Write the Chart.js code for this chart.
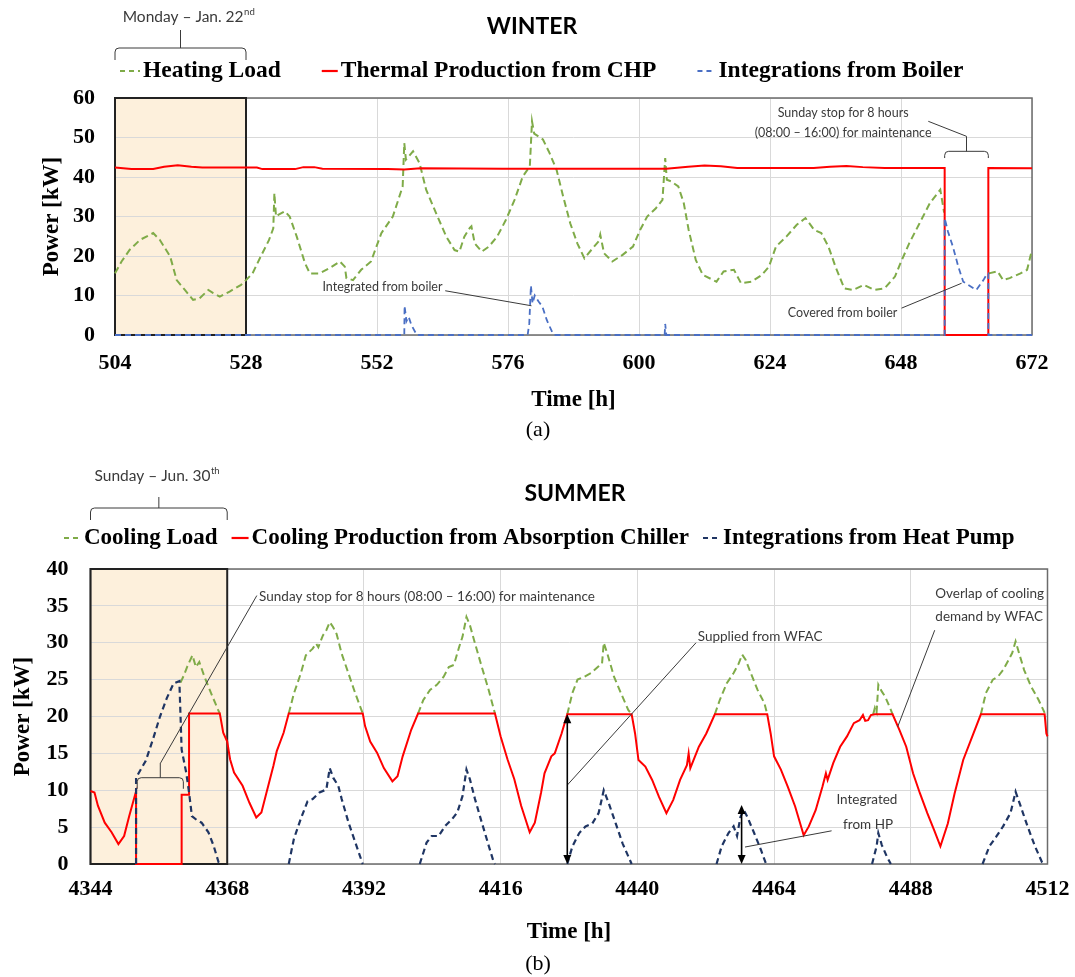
<!DOCTYPE html>
<html>
<head>
<meta charset="utf-8">
<script src="https://cdn.jsdelivr.net/npm/chart.js@4.4.1/dist/chart.umd.min.js"></script>
<style>
  html, body { margin: 0; background: #fff; }
  #page { position: relative; width: 1075px; height: 977px; overflow: hidden; }
  canvas { position: absolute; left: 0; }
  #ca { top: 0; }
  #cb { top: 440px; }
  .cap { position: absolute; font: 22px 'Liberation Serif', serif; color: #000; transform: translateX(-50%); }
</style>
</head>
<body>
<div id="page">
  <canvas id="ca" width="1075" height="440"></canvas>
  <canvas id="cb" width="1075" height="515"></canvas>
  <div class="cap" style="left:538px;top:416px">(a)</div>
  <div class="cap" style="left:538px;top:950px">(b)</div>
</div>
<script>
// ---- WINTER (a) ----
const winterHours = [504, 528, 552, 576, 600, 624, 648, 672];
const winterPower = [0, 10, 20, 30, 40, 50, 60];

const heatT = [504, 505.2, 506.7, 508.6, 511, 512.2, 514.1, 515.3, 516.8, 518.3, 519.5, 521.1, 522, 523.2, 525, 527.1, 528,
  529.2, 530.7, 532.2, 533, 533.2, 533.5, 533.9, 535.1, 536, 537.3, 538.8, 539.7, 541.5, 543.3, 545.2, 546.1, 546.4, 547.6,
  549.1, 550.9, 552.8, 554.9, 556.7, 557, 557.3, 558.6, 559.8, 561, 562.8, 564.7, 566.2, 567.1, 568, 569, 569.3, 569.9,
  571.2, 572.5, 574, 575.6, 577.2, 578.7, 580, 580.4, 580.8, 582.4, 583.6, 584.9, 586.1, 587.4, 588.7, 590, 591.3, 592.6,
  592.9, 593.6, 595.1, 597, 598.9, 600.2, 601.5, 603.1, 604.3, 604.8, 605.1, 605.9, 607.2, 608.2, 609.1, 610.4, 611.7,
  614.2, 615.5, 617.4, 618.7, 620.6, 622.5, 623.8, 625.1, 627, 628.9, 630.5, 632.1, 633.4, 634.7, 636, 637.6, 639.2,
  641.2, 643.1, 645, 646.9, 647.9, 649.5, 651.4, 653.3, 655.2, 655.9, 655.9,
  664.1, 665.7, 666.7, 667.9, 669.9, 671.1, 672];
const heatV = [15.6, 18.6, 21.6, 24.1, 25.8, 24.1, 19.9, 13.9, 11.4, 8.9, 9.3, 11.4, 10.6, 9.7, 11, 12.7, 13.9,
  15.6, 19.9, 24, 27, 35.9, 30, 30.4, 31.3, 30, 24.9, 18.2, 15.6, 15.6, 16.9, 18.6, 17.3, 14.4, 13.9,
  16.5, 18.6, 25.8, 30, 37.6, 48.6, 44.4, 46.5, 43.5, 36.8, 30.9, 24.9, 21.5, 21.1, 24.9, 27.1, 27.5, 23.2,
  21.1, 22.4, 24.9, 29.1, 34.2, 40.1, 42.7, 54.1, 51, 49.5, 46.1, 41.8, 35.1, 28.3, 23.2, 19.4, 21.6, 23.7,
  25.4, 20.7, 18.6, 20.3, 22.4, 26.6, 30, 32.1, 34.2, 44.8, 39.3, 38.9, 37.6, 33.4, 26.6, 19, 15.2,
  13.5, 16.1, 16.5, 13.1, 13.5, 15.2, 17.3, 22.4, 24.9, 27.9, 29.6, 26.6, 25.8, 22.4, 17.3, 11.8, 11.4,
  12.7, 11.4, 11.8, 14.8, 18.2, 23.2, 28.3, 33.4, 36.8, 31, null,
  15.6, 16.1, 13.9, 14.4, 15.6, 16.5, 21.6];

const chpT = [504, 507, 511, 513, 515.5, 518, 520, 530, 531, 537, 538.5, 540.5, 542, 554, 557, 560, 575, 590, 605, 609,
  612, 615, 618, 632, 635, 638, 641, 645, 656, 656, 664, 664, 672];
const chpV = [42.4, 42.0, 42.0, 42.6, 43.0, 42.6, 42.4, 42.4, 42.0, 42.0, 42.5, 42.5, 42.1, 42.0, 41.9, 42.2, 42.1, 42.1, 42.1, 42.6,
  42.9, 42.7, 42.3, 42.3, 42.6, 42.8, 42.5, 42.3, 42.3, 0, 0, 42.3, 42.2];

const boilT = [504, 557, 557.05, 557.4, 557.8, 558.3, 559.3, 579.6, 579.9, 580.2, 580.5, 580.9, 581.6, 582.3, 583.1, 584.2,
  584.5, 604.7, 604.8, 605, 656, 656, 656.6, 657.5, 658.5, 659.4, 660.3, 661.8, 663.1, 663.8, 664, 664, 672];
const boilV = [0, 0, 7.4, 3.5, 4.6, 2.5, 0, 0, 3, 12.5, 8, 10, 8.5, 7.2, 3.8, 0.4,
  0, 0, 2.8, 0, 0, 29.6, 26.2, 22.4, 17.3, 13.5, 12.7, 11.4, 13.9, 15.6, 15.6, 0, 0];

// ---- SUMMER (b) ----
const summerHours = [4344, 4368, 4392, 4416, 4440, 4464, 4488, 4512];
const summerPower = [0, 5, 10, 15, 20, 25, 30, 35, 40];

const coolT = [4359.8, 4360.4, 4361, 4361.9, 4362.5, 4363.1, 4364, 4365.2, 4366.4, 4366.7, 4366.7,
  4378.8, 4379.7, 4380.9, 4381.8, 4383, 4383.6, 4384, 4384.8, 4385.4, 4386, 4386.6, 4387.2, 4388.1, 4389.3, 4390.5, 4391.8, 4391.8,
  4401.5, 4402.4, 4403.6, 4404.8, 4406, 4406.9, 4407.8, 4408.7, 4409.3, 4410, 4410.6, 4411.5, 4412.7, 4413.9, 4415, 4415,
  4427.7, 4428.6, 4429.5, 4430.7, 4431.9, 4433.2, 4433.8, 4434.1, 4434.7, 4435.9, 4437.1, 4438.4, 4439, 4439,
  4453.6, 4454.5, 4455.7, 4456.9, 4457.8, 4458.4, 4459, 4459.9, 4461.1, 4462.3, 4462.8, 4462.8,
  4481.4, 4481.7, 4482, 4482.3, 4482.9, 4483.5, 4484.5, 4484.8, 4484.8,
  4500.3, 4501.2, 4502.4, 4503.3, 4504.2, 4505.2, 4505.8, 4506.4, 4507, 4507.9, 4509.1, 4510.4, 4511.5];
const coolV = [24.6, 25.6, 26.8, 28.3, 26.7, 27.4, 25.4, 23.1, 20.9, 20.4, null,
  20.4, 23.1, 25.8, 28.3, 29.2, 29.9, 29.4, 31, 31.7, 32.8, 32.1, 31.2, 28.5, 25.8, 23.1, 20.4, null,
  20.4, 22.2, 23.6, 24.3, 25.4, 26.7, 27, 29.4, 30.8, 33.5, 32.4, 29.9, 26.7, 23.6, 20.4, null,
  20.3, 23.2, 25, 25.4, 25.9, 26.8, 27.2, 30, 28.6, 25.4, 23.2, 20.9, 20.3, null,
  20.3, 22.3, 24.5, 25.9, 27.2, 28.4, 27.7, 25.9, 23.6, 21.8, 20.3, null,
  20.3, 21.2, 20.6, 24.3, 23.4, 22.7, 20.9, 20.3, null,
  20.3, 23.2, 25, 25.4, 26.3, 27.7, 28.6, 30.2, 28.6, 26.3, 24.1, 22.3, 20.5];

const absT = [4344, 4344.7, 4345.3, 4346.5, 4347.7, 4348.9, 4349.9, 4350.8, 4351.9, 4352, 4352, 4360, 4360, 4361.3, 4361.3,
  4366.7, 4367.3, 4368, 4368.5, 4369.2, 4370.7, 4371.9, 4373.1, 4374, 4374.9, 4376.1, 4376.7, 4377.9, 4378.8,
  4391.8, 4392.2, 4393.1, 4394.3, 4395.5, 4397, 4397.9, 4398.8, 4400.3, 4401.5,
  4415, 4416, 4417.2, 4418.4, 4419.6, 4421.1, 4422, 4423.1, 4423.7, 4424.9, 4425.5, 4426.7, 4427.7,
  4439, 4439.6, 4440.2, 4441.4, 4442.6, 4443.8, 4445.1, 4446.3, 4447.5, 4448.7, 4449, 4449.3, 4450.8, 4452.1, 4453.6,
  4462.8, 4463.4, 4464, 4465.2, 4466.4, 4467.7, 4469.2, 4470.1, 4471.3, 4472.5, 4473.1, 4473.4, 4474.4, 4475.6, 4476.8,
  4478, 4479, 4479.6, 4480, 4480.5, 4481, 4481.7,
  4484.8, 4486, 4487.2, 4488.4, 4489.6, 4490.9, 4492.1, 4493.2, 4494.5, 4495.7, 4497.2, 4498.8, 4500.3,
  4511.5, 4511.8, 4512];
const absV = [9.9, 9.7, 7.9, 5.6, 4.3, 2.7, 3.8, 6.5, 9.6, 9.8, 0, 0, 9.4, 9.4, 20.4,
  20.4, 17.8, 16.6, 14.2, 12.4, 10.6, 8.3, 6.3, 7, 9.7, 13.3, 15.3, 17.8, 20.4,
  20.4, 18.7, 16.6, 15.1, 13, 11.2, 11.9, 14.6, 18.2, 20.4,
  20.4, 17.3, 14.2, 11.5, 7.9, 4.3, 5.6, 9.7, 12.3, 14.6, 15, 17.7, 20.3,
  20.3, 17.7, 14.1, 13.2, 11.4, 9.1, 6.9, 8.7, 11.4, 13.4, 15, 13, 15.9, 17.7, 20.3,
  20.3, 17.7, 14.6, 12.8, 10.5, 7.8, 3.9, 5.1, 7.3, 10.5, 12.3, 11.4, 13.7, 15.9, 17.3,
  19.1, 19.5, 20.2, 19.4, 19.5, 20.2, 20.3,
  20.3, 18.2, 15.9, 12.3, 9.6, 6.9, 4.6, 2.4, 5.5, 9.6, 14.1, 17.3, 20.3,
  20.3, 17.7, 17.3];

// heat pump: one segment per day, null marks the gaps
const hpT = [4352, 4352, 4353.7, 4355, 4356.2, 4357.4, 4358.6, 4359.6, 4360, 4360.8, 4361.3, 4361.8, 4362.6, 4363.5,
  4364.7, 4365.6, 4366.5, 4366.7, 4366.7,
  4378.8, 4379.7, 4380.9, 4382.1, 4383, 4384.2, 4385.4, 4386, 4386.6, 4387.5, 4388.1, 4389.3, 4390.5, 4391.7, 4391.8, 4391.8,
  4401.8, 4403, 4403.9, 4405.1, 4406.3, 4407.5, 4408.4, 4409.3, 4410, 4410.6, 4411.5, 4412.7, 4413.9, 4414.8, 4415, 4415,
  4427.7, 4428.6, 4429.8, 4430.9, 4432.1, 4433.2, 4434.1, 4435, 4436.2, 4437.4, 4439, 4439,
  4453.9, 4454.8, 4456, 4456.9, 4457.5, 4458.1, 4458.7, 4459.3, 4460.5, 4461.7, 4462.6, 4462.6,
  4481.2, 4482, 4482.3, 4482.9, 4483.8, 4484.5, 4484.5,
  4500.6, 4501.8, 4503, 4504.2, 4505.5, 4506.4, 4507.3, 4508.5, 4509.8, 4511, 4511.4];
const hpV = [0, 11.7, 14, 17, 20, 22.5, 24.5, 24.8, 15.5, 12.4, 9.7, 6.5, 6, 5.6,
  4.3, 2.5, 0.2, 0, null,
  0, 3.4, 6.1, 8.5, 8.8, 9.7, 10.1, 13, 11.7, 10.6, 8.8, 5.6, 2.9, 0.2, 0, null,
  0, 2.9, 3.8, 3.8, 5.2, 6.1, 7, 9.2, 12.8, 11.5, 8.8, 5.6, 2.5, 0.2, 0, null,
  0, 2.4, 4.2, 5.1, 5.5, 6.9, 10, 8.2, 5.5, 2.8, 0, null,
  0, 2.4, 4.2, 5.1, 3.8, 6.4, 7.3, 6.4, 4.2, 1.9, 0, null,
  0, 2.4, 4.2, 2.6, 1, 0, null,
  0, 2.4, 3.7, 5.1, 6.9, 9.8, 7.8, 5.1, 2.4, 0.3, 0];

// ---- style ----
const SERIF = "'Liberation Serif', 'Times New Roman', serif";
const SANS = "Lato, 'Open Sans', sans-serif";
const GREEN = '#7fab48';
const RED = '#ff0000';
const ANNO = '#3a3a3a';
const serifBold = size => ({ family: SERIF, size, weight: 'bold' });
const pts = (t, v) => t.map((x, i) => ({ x, y: v[i] }));

function series(label, t, v, color, dash, width, order) {
  return {
    label, data: pts(t, v), borderColor: color, borderWidth: width, borderDash: dash,
    pointRadius: 0, fill: false, tension: 0, spanGaps: false, order, clip: 4,
  };
}

// ---- drawing helpers ----
function seg(ctx, x0, y0, x1, y1) {
  ctx.beginPath(); ctx.moveTo(x0, y0); ctx.lineTo(x1, y1); ctx.stroke();
}
function text(ctx, s, x, y, font, align = 'center', color = ANNO) {
  ctx.font = font; ctx.fillStyle = color; ctx.textAlign = align; ctx.textBaseline = 'middle';
  ctx.fillText(s, x, y);
}
function supText(ctx, main, sup, cx, y, size) {
  ctx.font = size + 'px ' + SANS;
  const w1 = ctx.measureText(main).width;
  ctx.font = (size * 0.62) + 'px ' + SANS;
  const w2 = ctx.measureText(sup).width;
  const x0 = cx - (w1 + w2) / 2;
  text(ctx, main, x0, y, size + 'px ' + SANS, 'left');
  text(ctx, sup, x0 + w1 + 0.5, y - size * 0.3, (size * 0.62) + 'px ' + SANS, 'left');
}
function bracket(ctx, x0, x1, yH, yEnd, stemTop) {
  const r = 4, xc = (x0 + x1) / 2;
  ctx.beginPath();
  ctx.moveTo(x0, yEnd); ctx.lineTo(x0, yH + r); ctx.quadraticCurveTo(x0, yH, x0 + r, yH);
  ctx.lineTo(x1 - r, yH); ctx.quadraticCurveTo(x1, yH, x1, yH + r); ctx.lineTo(x1, yEnd);
  ctx.moveTo(xc, yH); ctx.lineTo(xc, stemTop);
  ctx.stroke();
}
function arrowHead(ctx, x, y, dir) {
  ctx.beginPath(); ctx.moveTo(x, y); ctx.lineTo(x - 4, y - 9 * dir); ctx.lineTo(x + 4, y - 9 * dir); ctx.closePath(); ctx.fill();
}
function dblArrow(ctx, x, yTop, yBot) {
  ctx.save(); ctx.strokeStyle = '#000'; ctx.fillStyle = '#000'; ctx.lineWidth = 1.6;
  seg(ctx, x, yTop + 4, x, yBot - 4);
  arrowHead(ctx, x, yTop, -1); arrowHead(ctx, x, yBot, 1);
  ctx.restore();
}
function legend(ctx, items, x0, y, size, gap) {
  let x = x0;
  items.forEach(it => {
    ctx.save(); ctx.strokeStyle = it.color; ctx.lineWidth = 2.2; ctx.setLineDash(it.dash);
    seg(ctx, x, y, x + it.w, y); ctx.restore();
    x += it.w + 3;
    text(ctx, it.label, x, y, 'bold ' + size + 'px ' + SERIF, 'left', '#000');
    ctx.font = 'bold ' + size + 'px ' + SERIF;
    x += ctx.measureText(it.label).width + gap;
  });
}

function figurePlugin(cfg) {
  return {
    id: 'figure',
    beforeDraw(chart) {
      const { ctx, chartArea: a, scales: { x } } = chart;
      const x0 = x.getPixelForValue(cfg.day[0]), x1 = x.getPixelForValue(cfg.day[1]);
      ctx.save(); ctx.fillStyle = '#fdf0dc'; ctx.fillRect(x0, a.top, x1 - x0, a.bottom - a.top); ctx.restore();
    },
    beforeDatasetsDraw(chart) {
      const { ctx, chartArea: a, scales: { x } } = chart;
      const x0 = x.getPixelForValue(cfg.day[0]), x1 = x.getPixelForValue(cfg.day[1]);
      ctx.save();
      ctx.strokeStyle = '#6b6b6b'; ctx.lineWidth = 1.5;
      ctx.strokeRect(a.left, a.top, a.right - a.left, a.bottom - a.top);
      ctx.strokeStyle = '#222'; ctx.lineWidth = 2;
      ctx.strokeRect(x0, a.top, x1 - x0, a.bottom - a.top);
      ctx.restore();
    },
    afterDraw(chart) {
      const { ctx, scales: { x, y } } = chart;
      const X = v => x.getPixelForValue(v), Y = v => y.getPixelForValue(v);
      ctx.save();
      text(ctx, cfg.title, cfg.titleX, cfg.titleY, 'bold 23px ' + SANS, 'center', '#000');
      legend(ctx, cfg.legend, cfg.legendX, cfg.legendY, cfg.legendSize, cfg.legendGap);
      ctx.strokeStyle = ANNO; ctx.lineWidth = 1;
      const bx0 = X(cfg.day[0]), bx1 = X(cfg.day[1]);
      bracket(ctx, bx0, bx1, cfg.dayBracket[0], cfg.dayBracket[1], cfg.dayBracket[2]);
      supText(ctx, cfg.dayText[0], cfg.dayText[1], (bx0 + bx1) / 2 + cfg.dayText[2], cfg.dayText[3], 15.5);
      cfg.notes(ctx, X, Y);
      ctx.restore();
    },
  };
}

function axes(hours, power, xH, yW, tickPadX, tickPadY, titlePadB, titlePadL) {
  return {
    x: {
      type: 'linear', min: hours[0], max: hours[hours.length - 1],
      afterBuildTicks: s => { s.ticks = hours.map(value => ({ value })); },
      ticks: { font: serifBold(22), color: '#000', padding: tickPadX, maxRotation: 0, autoSkip: false, callback: v => String(v) },
      grid: { color: '#d9d9d9', drawTicks: false }, border: { display: false },
      title: { display: true, text: 'Time [h]', font: serifBold(23), color: '#000', padding: { top: 0, bottom: titlePadB } },
      afterFit: s => { s.height = xH; s.paddingLeft = 0; s.paddingRight = 0; },
    },
    y: {
      min: power[0], max: power[power.length - 1],
      afterBuildTicks: s => { s.ticks = power.map(value => ({ value })); },
      ticks: { font: serifBold(22), color: '#000', padding: tickPadY, callback: v => String(v) },
      grid: { color: '#d9d9d9', drawTicks: false }, border: { display: false },
      title: { display: true, text: 'Power [kW]', font: serifBold(23), color: '#000', padding: { top: titlePadL, bottom: 0 } },
      afterFit: s => { s.width = yW; s.paddingTop = 0; s.paddingBottom = 0; },
    },
  };
}

const noteFont = s => s + 'px ' + SANS;

// ---- chart (a) ----
new Chart(document.getElementById('ca'), {
  type: 'line',
  data: {
    datasets: [
      series('Integrations from Boiler', boilT, boilV, '#4a6fc4', [6, 4], 1.8, 0),
      series('Thermal Production from CHP', chpT, chpV, RED, [], 2, 1),
      series('Heating Load', heatT, heatV, GREEN, [7, 4], 2, 2),
    ],
  },
  options: {
    responsive: false, animation: false, events: [],
    layout: { padding: { left: 0, right: 43, top: 98, bottom: 0 } },
    plugins: { legend: { display: false }, tooltip: { enabled: false } },
    scales: axes(winterHours, winterPower, 105, 115, 15, 20, 26, 38),
  },
  plugins: [figurePlugin({
    day: [504, 528], title: 'WINTER', titleX: 532, titleY: 27,
    legendX: 120, legendY: 71, legendSize: 23.5, legendGap: 41,
    legend: [
      { label: 'Heating Load', color: GREEN, dash: [5, 4], w: 20 },
      { label: 'Thermal Production from CHP', color: RED, dash: [], w: 16 },
      { label: 'Integrations from Boiler', color: '#4a6fc4', dash: [5, 4], w: 18 },
    ],
    dayBracket: [48, 60, 30], dayText: ['Monday – Jan. 22', 'nd', 8, 17],
    notes(ctx, X, Y) {
      text(ctx, 'Integrated from boiler', X(553), Y(12.1), noteFont(12.5));
      seg(ctx, X(564.5), Y(11.2), X(580.3), Y(7.4));
      text(ctx, 'Sunday stop for 8 hours', X(637.4), Y(56.2), noteFont(12.5));
      text(ctx, '(08:00 – 16:00) for maintenance', X(637.4), Y(51.1), noteFont(12.5));
      seg(ctx, X(653), Y(54.1), X(660), Y(50.3));
      bracket(ctx, X(656), X(664), Y(46.5), Y(44.8), Y(50.3));
      text(ctx, 'Covered from boiler', X(637.3), Y(5.5), noteFont(12.5));
      seg(ctx, X(648.1), Y(6.8), X(659.1), Y(13.1));
    },
  })],
});

// ---- chart (b) ----
new Chart(document.getElementById('cb'), {
  type: 'line',
  data: {
    datasets: [
      series('Integrations from Heat Pump', hpT, hpV, '#1f3563', [6, 4], 2.2, 0),
      series('Cooling Production from Absorption Chiller', absT, absV, RED, [], 2, 1),
      series('Cooling Load', coolT, coolV, GREEN, [7, 4], 2, 2),
    ],
  },
  options: {
    responsive: false, animation: false, events: [],
    layout: { padding: { left: 0, right: 27.5, top: 129, bottom: 0 } },
    plugins: { legend: { display: false }, tooltip: { enabled: false } },
    scales: axes(summerHours, summerPower, 91, 90.5, 12, 22, 9, 9),
  },
  plugins: [figurePlugin({
    day: [4344, 4368], title: 'SUMMER', titleX: 575, titleY: 54,
    legendX: 64, legendY: 98, legendSize: 23, legendGap: 14,
    legend: [
      { label: 'Cooling Load', color: GREEN, dash: [5, 4], w: 17 },
      { label: 'Cooling Production from Absorption Chiller', color: RED, dash: [], w: 17 },
      { label: 'Integrations from Heat Pump', color: '#1f3563', dash: [5, 4], w: 17 },
    ],
    dayBracket: [68, 80, 57], dayText: ['Sunday – Jun. 30', 'th', -2, 36],
    notes(ctx, X, Y) {
      text(ctx, 'Sunday stop for 8 hours (08:00 – 16:00) for maintenance', X(4373.6), Y(36.2), noteFont(13.5), 'left');
      seg(ctx, X(4373.2), Y(36.4), X(4356.3), Y(13.7));
      bracket(ctx, X(4352.2), X(4360.3), Y(11.7), Y(10.2), Y(13.7));
      text(ctx, 'Supplied from WFAC', X(4450.6), Y(30.8), noteFont(13.5), 'left');
      seg(ctx, X(4450.3), Y(30), X(4427.7), Y(10.7));
      dblArrow(ctx, X(4427.7), Y(20.3), Y(0));
      text(ctx, 'Integrated', X(4480.3), Y(8.7), noteFont(13.5));
      text(ctx, 'from HP', X(4480.5), Y(5.3), noteFont(13.5));
      seg(ctx, X(4474.1), Y(4.5), X(4458.9), Y(2.3));
      dblArrow(ctx, X(4458.3), Y(8.0), Y(0));
      text(ctx, 'Overlap of cooling', X(4511.4), Y(36.7), noteFont(13.5), 'right');
      text(ctx, 'demand by WFAC', X(4511.2), Y(33.5), noteFont(13.5), 'right');
      seg(ctx, X(4492.2), Y(31.7), X(4485.7), Y(18.6));
    },
  })],
});
</script>
</body>
</html>
